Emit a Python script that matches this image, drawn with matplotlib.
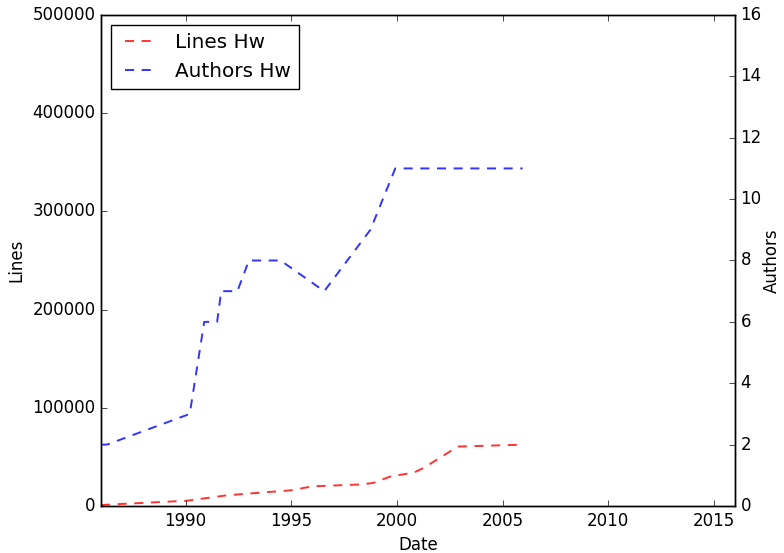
import pandas as pd
import matplotlib
matplotlib.use("Agg")
import matplotlib.pyplot as plt
import matplotlib.dates as mdates

# Lines of code over time
line_dates = ["1986-01-01", "1990-02-01", "1992-01-01", "1995-01-01", "1996-01-01",
              "1998-05-15", "1998-11-20", "1999-09-10", "2000-10-20", "2001-04-15",
              "2002-11-20", "2006-01-01"]
line_counts = [1000, 5400, 11000, 16000, 20000, 22000, 23500, 30000, 34000, 39000,
               60500, 62500]

# Number of authors over time
author_dates = ["1986-01-01", "1986-04-15", "1990-03-15", "1990-11-20", "1991-07-01",
                "1991-09-10", "1992-06-15", "1993-01-01", "1994-07-01", "1996-07-25",
                "1998-10-01", "1999-12-05", "2005-12-15"]
author_counts = [2, 2, 3, 6, 6, 7, 7, 8, 8, 7, 9, 11, 11]

plt.style.use("classic")
plt.rcParams["figure.facecolor"] = "white"
plt.rcParams["savefig.facecolor"] = "white"
plt.rcParams["lines.scale_dashes"] = False

dash = (0, (6.5, 5.5))

fig = plt.figure(figsize=(7.84, 5.53), dpi=100)
ax = fig.add_axes([0.1288, 0.085, 0.8087, 0.8879])

ln1 = ax.plot(pd.to_datetime(line_dates), line_counts, color="r", linestyle=dash,
              linewidth=1.4, alpha=0.8, label="Lines Hw")
ax.set_ylim(0, 500000)
ax.set_ylabel("Lines")
ax.set_xlabel("Date")

ax2 = ax.twinx()
ln2 = ax2.plot(pd.to_datetime(author_dates), author_counts, color="b", linestyle=dash,
               linewidth=1.4, alpha=0.8, label="Authors Hw")
ax2.set_ylim(0, 16)
ax2.set_ylabel("Authors", labelpad=1)

ax.set_xlim(pd.Timestamp("1986-01-01"), pd.Timestamp("2016-01-01"))
ax.xaxis.set_major_locator(mdates.YearLocator(5))
ax.xaxis.set_major_formatter(mdates.DateFormatter("%Y"))

lns = ln1 + ln2
ax.legend(lns, [l.get_label() for l in lns], loc="upper left")

fig.savefig("out.png", dpi=100)
plt.close(fig)
